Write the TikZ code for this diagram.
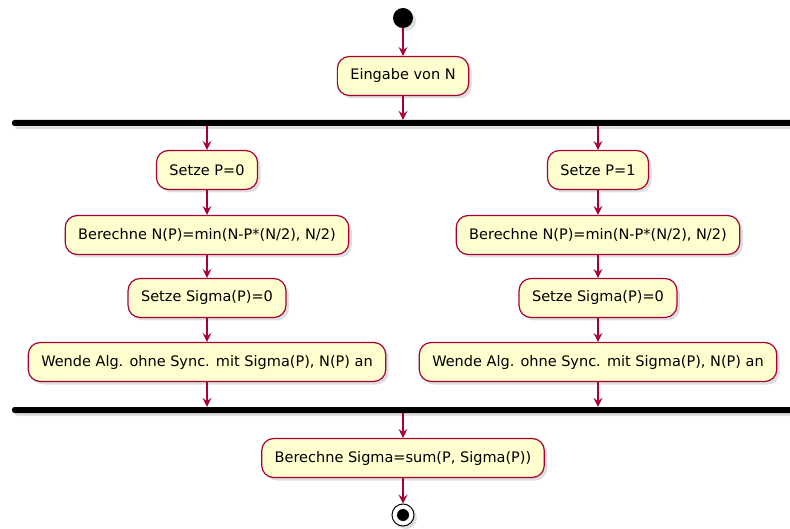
\documentclass[tikz,border=0pt]{standalone}
\usepackage{fontspec}
\setmainfont{DejaVu Sans}
\usetikzlibrary{arrows.meta,shadows}
\definecolor{pborder}{HTML}{A80036}
\definecolor{pfill}{HTML}{FEFECE}
\tikzset{
  act/.style={draw=pborder, fill=pfill, line width=1.2pt, rounded corners=12pt,
    minimum height=39pt, inner xsep=13pt, font=\fontsize{14.5}{17}\selectfont,
    drop shadow={shadow xshift=3pt, shadow yshift=-3pt, opacity=0.25}},
  syncbar/.style={fill=black, rounded corners=2.5pt, inner sep=0pt, minimum height=6pt,
    drop shadow={shadow xshift=3pt, shadow yshift=-3pt, opacity=0.25}},
  flow/.style={draw=pborder, line width=1.2pt, -{Stealth[length=9pt,width=9pt,inset=3.5pt]}}
}
\begin{document}
\begin{tikzpicture}[x=1pt,y=-1pt]
\useasboundingbox (0,0) rectangle (790,529);
% start
\node[circle, fill=black, minimum size=20pt, inner sep=0pt,
  drop shadow={shadow xshift=3pt, shadow yshift=-3pt, opacity=0.25}] (start) at (403,18) {};
\node[act] (ein) at (403,76) {Eingabe von N};
\node[syncbar, minimum width=790pt] (fork) at (407,123) {};
% left
\node[act] (s0) at (207,170) {Setze P=0};
\node[act] (b0) at (207,235) {Berechne N(P)=min(N-P*(N/2), N/2)};
\node[act] (g0) at (207,298) {Setze Sigma(P)=0};
\node[act] (w0) at (207,362) {Wende Alg. ohne Sync. mit Sigma(P), N(P) an};
% right
\node[act] (s1) at (598,170) {Setze P=1};
\node[act] (b1) at (598,235) {Berechne N(P)=min(N-P*(N/2), N/2)};
\node[act] (g1) at (598,298) {Setze Sigma(P)=0};
\node[act] (w1) at (598,362) {Wende Alg. ohne Sync. mit Sigma(P), N(P) an};
% join
\node[syncbar, minimum width=790pt] (join) at (407,410) {};
\node[act] (sum) at (403,458) {Berechne Sigma=sum(P, Sigma(P))};
% end
\node[circle, draw=black, fill=white, line width=1pt, minimum size=22pt, inner sep=0pt,
  drop shadow={shadow xshift=3pt, shadow yshift=-3pt, opacity=0.25}] (stop) at (403,515) {};
\node[circle, fill=black, minimum size=12pt, inner sep=0pt] (stopdot) at (stop) {};
% connectors
\draw[flow] (start) -- (ein);
\draw[flow] (ein.south) -- (ein.south |- fork.north);
\draw[flow] (fork.south -| s0) -- (s0);
\draw[flow] (s0) -- (b0);
\draw[flow] (b0) -- (g0);
\draw[flow] (g0) -- (w0);
\draw[flow] (w0.south) -- (w0.south |- join.north);
\draw[flow] (fork.south -| s1) -- (s1);
\draw[flow] (s1) -- (b1);
\draw[flow] (b1) -- (g1);
\draw[flow] (g1) -- (w1);
\draw[flow] (w1.south) -- (w1.south |- join.north);
\draw[flow] (join.south -| sum) -- (sum);
\draw[flow] (sum) -- (stop);
\end{tikzpicture}
\end{document}
